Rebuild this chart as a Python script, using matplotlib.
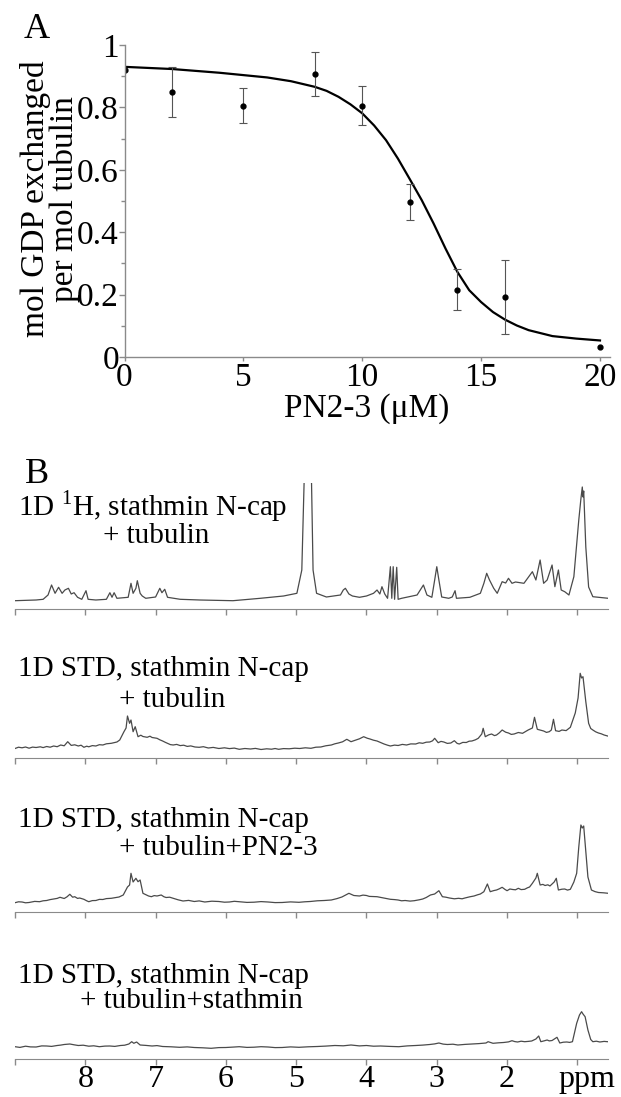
import matplotlib
matplotlib.use('Agg')
import matplotlib.pyplot as plt

plt.rcParams['font.family'] = ['Liberation Serif', 'DejaVu Serif']
plt.rcParams['mathtext.fontset'] = 'custom'
plt.rcParams['mathtext.rm'] = 'Liberation Serif'

# ---- panel A: GDP exchange vs PN2-3 ----
conc = [0, 2, 5, 8, 10, 12, 14, 16, 20]
exch = [0.92, 0.85, 0.804, 0.907, 0.804, 0.497, 0.216, 0.193, 0.033]
err_lo = [0, 0.08, 0.053, 0.071, 0.062, 0.058, 0.066, 0.12, 0]
err_hi = [0, 0.08, 0.057, 0.069, 0.066, 0.059, 0.065, 0.119, 0]
fit_x = [0, 2, 4, 6, 7, 8, 8.5, 9, 9.5, 10, 10.5, 11, 11.5, 12, 12.5, 13, 13.5,
         14, 14.5, 15, 15.5, 16, 16.5, 17, 18, 19, 20]
fit_y = [0.930, 0.923, 0.911, 0.896, 0.884, 0.866, 0.853, 0.834, 0.810, 0.781,
         0.742, 0.695, 0.636, 0.570, 0.503, 0.428, 0.348, 0.273, 0.214, 0.176,
         0.144, 0.120, 0.101, 0.086, 0.067, 0.059, 0.053]

# ---- panel B: 1D spectra, (ppm, intensity) ----
spec_1h = [
    (9.00, 8.3), (8.70, 9.0), (8.60, 9.7), (8.53, 14), (8.48, 24), (8.43, 15.7),
    (8.38, 21.7), (8.33, 15.7), (8.29, 19), (8.24, 20.7), (8.20, 15), (8.16, 16.3),
    (8.11, 11.7), (8.05, 9.7), (7.99, 18.3), (7.96, 9.7), (7.85, 9.0), (7.70, 9.7),
    (7.65, 16.3), (7.62, 11.7), (7.59, 16.3), (7.55, 10.7), (7.39, 11.7), (7.35, 25.7),
    (7.32, 15.7), (7.28, 20.7), (7.26, 28.3), (7.22, 15.7), (7.19, 13), (7.14, 10.7),
    (7.00, 12), (6.94, 20.7), (6.91, 16.3), (6.87, 19.7), (6.83, 11.7), (6.65, 9.7),
    (6.37, 9.0), (5.90, 8.3), (5.51, 10.7), (5.18, 13), (4.99, 15.7), (4.92, 39),
    (4.86, 200), (4.80, 200), (4.76, 39), (4.71, 15.7), (4.57, 12), (4.37, 14),
    (4.33, 19), (4.30, 20.7), (4.25, 15), (4.20, 13), (4.10, 11.7), (4.00, 13),
    (3.90, 15.7), (3.85, 19), (3.81, 15), (3.78, 22.3), (3.74, 15), (3.70, 10.7),
    (3.66, 42.3), (3.64, 10.7), (3.62, 42.3), (3.60, 9.7), (3.57, 41.7), (3.55, 9.7),
    (3.50, 10.7), (3.28, 14), (3.19, 24), (3.14, 14), (3.07, 11.7), (3.03, 29),
    (3.00, 42.3), (2.97, 29), (2.93, 12), (2.83, 10.7), (2.78, 12), (2.74, 18.3),
    (2.72, 10.7), (2.53, 11.7), (2.38, 15.7), (2.33, 25.7), (2.29, 35.7), (2.25, 29),
    (2.19, 20.7), (2.14, 15.7), (2.07, 27.3), (2.02, 26), (1.98, 30.7), (1.93, 25.7),
    (1.88, 27), (1.76, 25.7), (1.64, 37.3), (1.59, 29), (1.53, 49), (1.48, 25.7),
    (1.43, 29), (1.36, 44), (1.32, 22.3), (1.27, 39), (1.23, 19), (1.18, 17.3),
    (1.12, 14), (1.05, 32.3), (0.98, 89), (0.95, 110), (0.93, 122), (0.92, 112),
    (0.91, 118), (0.88, 62), (0.84, 22), (0.78, 12.3), (0.56, 10.7),
]
spec_std = [
    (9.00, 9.5), (8.95, 10.8), (8.90, 10.2), (8.85, 11.0), (8.80, 9.8), (8.75, 10.9),
    (8.70, 10.5), (8.64, 11.2), (8.60, 10.4), (8.55, 11.5), (8.50, 10.8), (8.45, 12),
    (8.40, 11.3), (8.35, 13), (8.30, 12.2), (8.25, 16.3), (8.20, 12.6), (8.15, 13.2),
    (8.10, 12), (8.06, 12.8), (8.02, 10.7), (7.98, 11.8), (7.95, 11.2), (7.90, 12.4),
    (7.85, 12), (7.80, 13.3), (7.75, 13), (7.70, 14.2), (7.63, 14.7), (7.55, 16),
    (7.51, 18), (7.45, 26.3), (7.42, 30), (7.40, 42), (7.37, 34.7), (7.35, 38),
    (7.32, 26.3), (7.29, 31.3), (7.25, 21.3), (7.21, 22.8), (7.18, 21.5), (7.12, 20.7),
    (7.08, 21.8), (7.05, 20.5), (6.98, 19.7), (6.94, 18.2), (6.90, 17), (6.86, 15.6),
    (6.83, 14.7), (6.79, 13.4), (6.75, 13), (6.70, 13.6), (6.65, 12.4), (6.60, 12.8),
    (6.55, 11.6), (6.50, 12.1), (6.44, 11.0), (6.38, 10.7), (6.32, 11.3), (6.25, 10),
    (6.18, 10.6), (6.10, 9.5), (6.02, 10.2), (5.95, 9.4), (5.88, 9.9), (5.81, 8.7),
    (5.73, 9.5), (5.65, 9), (5.58, 9.6), (5.50, 8.5), (5.42, 9.2), (5.35, 8.8),
    (5.30, 9.5), (5.25, 8.7), (5.18, 9.4), (5.10, 9.2), (5.02, 9.8), (4.95, 9.5),
    (4.87, 10.2), (4.79, 9.7), (4.72, 10.8), (4.65, 11), (4.58, 12.2), (4.50, 13),
    (4.45, 14.2), (4.40, 15), (4.34, 16.2), (4.28, 18.7), (4.22, 16.3), (4.15, 18),
    (4.10, 19.2), (4.04, 21.3), (3.99, 19.8), (3.95, 19), (3.90, 17.8), (3.85, 17),
    (3.80, 15.5), (3.75, 14), (3.70, 12.8), (3.66, 12), (3.60, 12.9), (3.55, 12.5),
    (3.49, 13.6), (3.43, 13), (3.37, 14.1), (3.30, 14), (3.25, 15.2), (3.20, 14.7),
    (3.15, 15.8), (3.10, 16), (3.06, 17.2), (3.03, 19.7), (2.98, 15.3), (2.94, 16.6),
    (2.90, 16), (2.85, 14.6), (2.80, 15), (2.75, 17.3), (2.71, 14.6), (2.68, 14),
    (2.63, 15.6), (2.58, 15.5), (2.54, 16.8), (2.50, 17), (2.45, 18.2), (2.41, 19.7),
    (2.36, 24), (2.34, 29.7), (2.31, 21.3), (2.26, 23.2), (2.22, 24), (2.18, 22.4),
    (2.15, 23), (2.11, 25.2), (2.07, 28), (2.02, 25.8), (1.98, 25), (1.94, 23.6),
    (1.90, 24), (1.84, 25.5), (1.78, 24.7), (1.74, 26.4), (1.70, 28), (1.64, 30),
    (1.61, 40.7), (1.57, 28.7), (1.52, 27.8), (1.48, 27), (1.44, 25.6), (1.40, 26.3),
    (1.37, 28), (1.34, 38.7), (1.31, 27.3), (1.26, 26.6), (1.22, 28), (1.16, 27.4),
    (1.10, 30.7), (1.03, 45), (0.99, 60), (0.96, 84.7), (0.94, 80), (0.92, 81.3),
    (0.88, 56.3), (0.84, 34.7), (0.81, 29.5), (0.78, 28), (0.74, 26.2), (0.70, 25),
    (0.66, 24.2), (0.62, 23), (0.57, 22),
]
spec_std_pn = [
    (9.00, 9.3), (8.95, 10.2), (8.90, 10), (8.85, 9.2), (8.80, 9.5), (8.72, 10.6),
    (8.65, 10.3), (8.60, 11.2), (8.55, 11.5), (8.50, 12.4), (8.45, 13), (8.40, 13.6),
    (8.36, 14.7), (8.30, 13.5), (8.26, 15.2), (8.22, 17.7), (8.18, 14.8), (8.15, 15.3),
    (8.11, 13.6), (8.08, 14), (8.02, 12.7), (7.98, 11.2), (7.95, 10.3), (7.90, 11.4),
    (7.85, 11.5), (7.80, 12.6), (7.75, 12.5), (7.70, 13.4), (7.63, 13.7), (7.57, 14.4),
    (7.52, 15), (7.46, 17), (7.40, 25), (7.37, 27), (7.35, 38.7), (7.32, 30),
    (7.28, 33.7), (7.25, 30.3), (7.22, 32), (7.18, 18.7), (7.14, 17.4), (7.10, 16),
    (7.06, 15.3), (7.02, 16.4), (6.98, 16), (6.92, 17), (6.88, 15.2), (6.85, 14.5),
    (6.80, 14.8), (6.75, 13.7), (6.68, 12.2), (6.61, 11), (6.53, 11.6), (6.45, 10.5),
    (6.38, 11.1), (6.30, 10), (6.20, 10.8), (6.10, 10.5), (6.02, 9.8), (5.95, 10),
    (5.88, 10.7), (5.81, 10.3), (5.70, 9.6), (5.60, 9.8), (5.50, 10.4), (5.40, 10),
    (5.30, 9.4), (5.20, 9.5), (5.08, 10.1), (4.96, 9.7), (4.88, 10.2), (4.80, 10.5),
    (4.70, 11.2), (4.60, 11.5), (4.50, 12), (4.42, 13.4), (4.35, 15), (4.25, 18.7),
    (4.18, 16.5), (4.10, 16), (4.05, 16.9), (4.00, 16.5), (3.96, 15.6), (3.92, 15.5),
    (3.85, 15.3), (3.80, 14.6), (3.75, 14), (3.70, 13.2), (3.66, 12.7), (3.60, 12.4),
    (3.55, 12), (3.50, 11.2), (3.45, 11.5), (3.38, 10.9), (3.32, 11.3), (3.25, 12.2),
    (3.20, 13), (3.15, 14.5), (3.09, 17), (3.03, 18), (2.97, 21.3), (2.92, 15.3),
    (2.87, 14.8), (2.82, 14), (2.75, 13.2), (2.69, 13.7), (2.64, 13.2), (2.60, 14),
    (2.53, 15.2), (2.47, 16), (2.42, 17.2), (2.38, 18), (2.33, 20.3), (2.28, 28),
    (2.24, 20.3), (2.19, 21.4), (2.15, 22), (2.11, 23.2), (2.07, 24.7), (2.03, 22.6),
    (2.00, 21.3), (1.96, 23), (1.92, 22.5), (1.88, 22.2), (1.84, 23.7), (1.80, 22.4),
    (1.75, 22.7), (1.71, 24.2), (1.68, 25), (1.64, 28.7), (1.59, 34), (1.57, 38.7),
    (1.53, 27), (1.49, 27.6), (1.46, 26.5), (1.42, 27.2), (1.39, 26), (1.33, 30),
    (1.30, 33.7), (1.27, 22), (1.22, 22.8), (1.18, 23), (1.14, 21.9), (1.10, 22.7),
    (1.05, 30), (1.01, 38.7), (0.98, 65), (0.95, 87), (0.93, 84), (0.91, 86),
    (0.88, 60), (0.85, 35), (0.80, 22), (0.75, 20.4), (0.70, 19.5), (0.63, 19.2),
    (0.56, 18.7),
]
spec_std_stm = [
    (9.00, 12.3), (8.93, 11.6), (8.85, 12.8), (8.78, 12.1), (8.70, 12), (8.62, 13.1),
    (8.55, 13), (8.48, 12.6), (8.40, 13.5), (8.35, 13.9), (8.30, 14.5), (8.22, 15),
    (8.16, 14.2), (8.10, 13.5), (8.03, 13.8), (7.95, 12.8), (7.88, 13.2), (7.80, 12.3),
    (7.72, 12.9), (7.65, 13), (7.58, 12.6), (7.50, 13.5), (7.44, 13.8), (7.38, 15),
    (7.34, 17.3), (7.31, 15.7), (7.27, 17), (7.22, 14), (7.14, 13.6), (7.05, 13),
    (6.98, 13.4), (6.90, 12.5), (6.78, 12.2), (6.66, 11.7), (6.55, 12.1), (6.45, 11.5),
    (6.33, 11.2), (6.21, 10.7), (6.10, 11.4), (6.00, 11.5), (5.90, 11.9), (5.81, 12.3),
    (5.70, 11.6), (5.60, 11.8), (5.50, 12.3), (5.40, 12), (5.30, 11.4), (5.20, 11.5),
    (5.08, 12.1), (4.96, 11.7), (4.83, 12.2), (4.70, 12.5), (4.58, 12.9), (4.45, 13.5),
    (4.33, 13.2), (4.22, 14), (4.10, 13.1), (4.00, 13.5), (3.90, 12.8), (3.80, 13),
    (3.67, 12.6), (3.54, 12.3), (3.42, 13.1), (3.30, 13.5), (3.20, 13.9), (3.10, 14.5),
    (3.03, 15.1), (2.97, 16), (2.91, 14.9), (2.85, 14.5), (2.77, 14.8), (2.70, 14),
    (2.60, 14.6), (2.50, 15), (2.40, 15.4), (2.30, 16), (2.27, 17.3), (2.20, 15.7),
    (2.12, 16.2), (2.05, 16.5), (1.98, 17.1), (1.93, 18.3), (1.89, 17.4), (1.85, 17),
    (1.80, 17.8), (1.75, 17.3), (1.70, 17.6), (1.65, 18), (1.59, 20), (1.55, 23),
    (1.52, 17.3), (1.47, 18.2), (1.43, 19), (1.40, 18.1), (1.36, 18.5), (1.29, 21.7),
    (1.25, 16), (1.20, 16.8), (1.15, 17), (1.11, 16.6), (1.07, 17.3), (1.01, 35.7),
    (0.97, 44), (0.94, 47.3), (0.92, 45), (0.89, 42.3), (0.85, 29), (0.81, 19.5),
    (0.78, 17.3), (0.73, 17.8), (0.68, 17), (0.62, 17.6), (0.57, 17.3),
]
spec_titles = [
    ("1D $^{1}$H, stathmin N-cap", "+ tubulin"),
    ("1D STD, stathmin N-cap", "+ tubulin"),
    ("1D STD, stathmin N-cap", "+ tubulin+PN2-3"),
    ("1D STD, stathmin N-cap", "+ tubulin+stathmin"),
]
ppm_ticks = [9, 8, 7, 6, 5, 4, 3, 2, 1]
ppm_labels = ['', '8', '7', '6', '5', '4', '3', '2', '']

W, H = 621, 1097
fig = plt.figure(figsize=(W / 100, H / 100), dpi=100)
grey = '#8a8a8a'


def rect(x0, y0, x1, y1):
    # pixel box (top-left origin) -> figure fraction
    return [x0 / W, 1 - y1 / H, (x1 - x0) / W, (y1 - y0) / H]


# ---------------- panel A ----------------
ax = fig.add_axes(rect(124.5, 45, 609.5, 357))
ax.set_xlim(0, 20.4)
ax.set_ylim(0, 1)
ax.plot(fit_x, fit_y, color='black', lw=1.6)
idx = [i for i in range(len(conc)) if err_lo[i] > 0]
ax.errorbar([conc[i] for i in idx], [exch[i] for i in idx],
            yerr=[[err_lo[i] for i in idx], [err_hi[i] for i in idx]],
            fmt='none', ecolor='#555555', elinewidth=0.8, capsize=3, capthick=0.8)
ax.plot(conc, exch, 'o', color='black', ms=3.5)
for s in ['top', 'right']:
    ax.spines[s].set_visible(False)
for s in ['left', 'bottom']:
    ax.spines[s].set_color(grey)
    ax.spines[s].set_linewidth(1)
ax.set_xticks([0, 5, 10, 15, 20])
ax.set_yticks([0, 0.2, 0.4, 0.6, 0.8, 1])
ax.set_yticklabels(['0', '0.2', '0.4', '0.6', '0.8', '1'])
ax.set_yticks([0.1, 0.3, 0.5, 0.7, 0.9], minor=True)
ax.tick_params(axis='both', which='both', colors=grey, labelcolor='black',
               labelsize=24, direction='out', width=1)
ax.tick_params(axis='y', which='major', length=4, pad=0)
ax.tick_params(axis='y', which='minor', length=3)
ax.tick_params(axis='x', length=3, pad=1)
ax.set_xlabel('PN2-3 (\u03bcM)', fontsize=24, labelpad=0)
fig.text(36 / W, 1 - 199 / H, 'mol GDP exchanged', rotation=90, fontsize=24,
         ha='center', va='center')
fig.text(64 / W, 1 - 199 / H, 'per mol tubulin', rotation=90, fontsize=24,
         ha='center', va='center')
fig.text(24 / W, 1 - 38 / H, 'A', fontsize=26, va='baseline')

# ---------------- panel B ----------------
fig.text(25 / W, 1 - 483 / H, 'B', fontsize=26, va='baseline')
axis_y = [609, 758, 912, 1059]
title_pos = [(18, 515, 103, 543), (18, 676, 119, 707),
             (18, 827, 119, 855), (18, 983, 80, 1008)]
spectra = [spec_1h, spec_std, spec_std_pn, spec_std_stm]
for k, spec in enumerate(spectra):
    ay = axis_y[k]
    sx = fig.add_axes(rect(15, ay - 126, 607.6, ay))
    sx.patch.set_visible(False)
    sx.plot([p for p, v in spec], [v for p, v in spec], color='#4a4a4a', lw=0.9)
    sx.set_xlim(9, 0.57)
    sx.set_ylim(0, 126)
    for s in ['top', 'right', 'left']:
        sx.spines[s].set_visible(False)
    sx.spines['bottom'].set_color(grey)
    sx.set_yticks([])
    sx.set_xticks(ppm_ticks)
    sx.tick_params(axis='x', colors=grey, labelcolor='black', length=4.5,
                   width=1, direction='out', labelsize=23, pad=0)
    if k == 3:
        sx.set_xticklabels(ppm_labels)
        sx.annotate('ppm', xy=(0.86, 0), xycoords=('data', 'axes fraction'),
                    xytext=(0, -4.5), textcoords='offset points',
                    ha='center', va='top', fontsize=23)
    else:
        sx.set_xticklabels([])
    x1, y1, x2, y2 = title_pos[k]
    fig.text(x1 / W, 1 - y1 / H, spec_titles[k][0], fontsize=21, va='baseline')
    fig.text(x2 / W, 1 - y2 / H, spec_titles[k][1], fontsize=21, va='baseline')

fig.savefig('out.png', dpi=100)
